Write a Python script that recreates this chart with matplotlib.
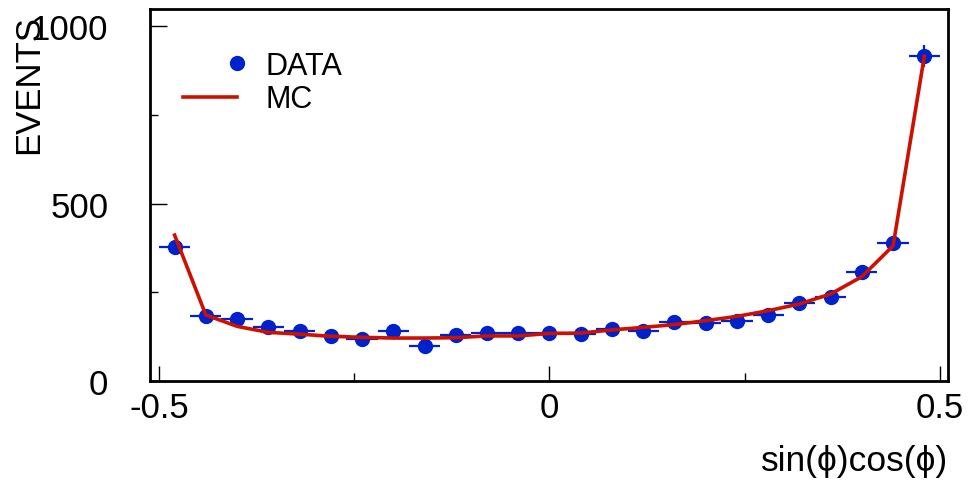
import numpy as np
import matplotlib
matplotlib.use('Agg')
import matplotlib.pyplot as plt
from matplotlib.lines import Line2D
from matplotlib.legend_handler import HandlerLine2D
from matplotlib.ticker import MultipleLocator

plt.rcParams['font.family'] = ['Liberation Sans', 'DejaVu Sans']
plt.rcParams['axes.unicode_minus'] = False

# bin centres of sin(phi)cos(phi), 25 bins of width 0.04
bin_centers = [-0.48, -0.44, -0.40, -0.36, -0.32, -0.28, -0.24, -0.20, -0.16, -0.12,
               -0.08, -0.04, 0.00, 0.04, 0.08, 0.12, 0.16, 0.20, 0.24, 0.28,
               0.32, 0.36, 0.40, 0.44, 0.48]
bin_width = 0.04

data_counts = [377, 182, 175, 151, 142, 128, 118, 140, 99, 130,
               134, 134, 136, 132, 146, 142, 165, 163, 168, 186,
               220, 237, 308, 389, 915]

mc_counts = [411, 186, 154, 137, 132, 126, 123, 121, 121, 122,
             127, 127, 134, 135, 144, 151, 159, 170, 182, 198,
             217, 245, 294, 381, 915]

blue = '#0022cc'
red = '#cc1100'

fig = plt.figure(figsize=(9.69, 4.81), dpi=100)
ax = fig.add_axes([150 / 969, 1 - 382 / 481, 798 / 969, 372 / 481])

ax.errorbar(bin_centers, data_counts, xerr=bin_width / 2, yerr=np.sqrt(data_counts),
            fmt='o', color=blue, ms=10, elinewidth=1.6, capsize=0, zorder=3)
ax.plot(bin_centers, mc_counts, color=red, lw=2.6, zorder=4)

ax.set_xlim(-0.5115, 0.5103)
ax.set_ylim(0, 1048)

ax.xaxis.set_major_locator(MultipleLocator(0.5))
ax.xaxis.set_minor_locator(MultipleLocator(0.25))
ax.yaxis.set_major_locator(MultipleLocator(500))
ax.yaxis.set_minor_locator(MultipleLocator(250))
ax.xaxis.set_major_formatter(lambda v, p: '0' if abs(v) < 1e-9 else f'{v:g}')

ax.tick_params(which='both', direction='in', top=False, right=False, width=1, labelsize=25)
ax.tick_params(axis='x', which='major', length=11, pad=7)
ax.tick_params(axis='x', which='minor', length=6)
ax.tick_params(axis='y', which='major', length=12, pad=30)
ax.tick_params(axis='y', which='minor', length=6)
for s in ax.spines.values():
    s.set_linewidth(2)

ax.set_xlabel('sin(ϕ)cos(ϕ)', fontsize=25.5, loc='right')
ax.xaxis.set_label_coords(1.0, -0.17)
ax.set_ylabel('EVENTS', fontsize=25, loc='top')
ax.yaxis.set_label_coords(-0.132, 0.987)


# ROOT-style legend: marker sits at the right end of the handle box
class RightMarkerHandler(HandlerLine2D):
    def get_xdata(self, legend, xdescent, ydescent, width, height, fontsize):
        x_end = -xdescent + width
        return [x_end, x_end], [x_end]


h_data = Line2D([], [], ls='none', marker='o', color=blue, ms=10)
h_mc = Line2D([], [], color=red, lw=2.6)
ax.legend([h_data, h_mc], ['DATA', 'MC'], loc='upper left', bbox_to_anchor=(0.041, 0.888),
          frameon=False, fontsize=22, handlelength=1.77, handletextpad=0.95,
          labelspacing=0.12, borderaxespad=0, borderpad=0,
          handler_map={h_data: RightMarkerHandler()})

fig.savefig('out.png', dpi=100)
